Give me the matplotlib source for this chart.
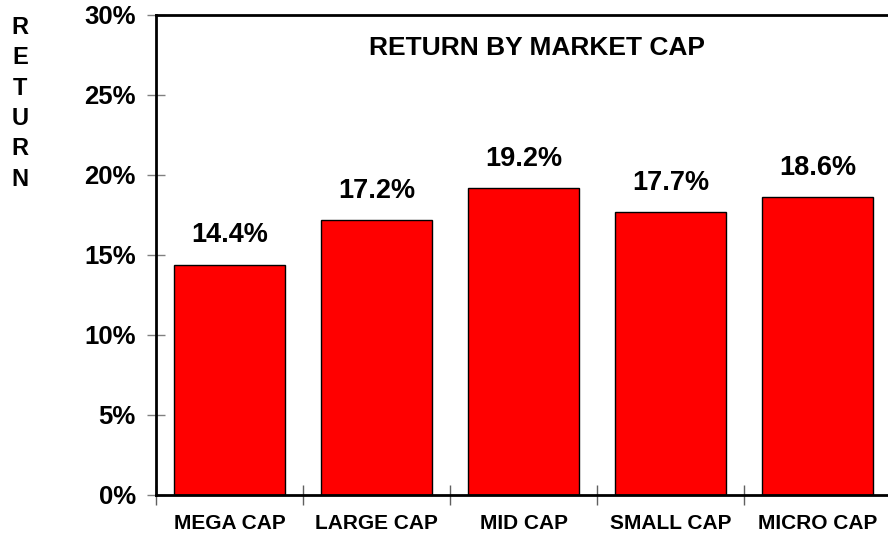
import matplotlib
matplotlib.use("Agg")
import matplotlib.pyplot as plt
from matplotlib.ticker import FixedLocator, NullFormatter

categories = ["MEGA CAP", "LARGE CAP", "MID CAP", "SMALL CAP", "MICRO CAP"]
returns = [14.4, 17.2, 19.2, 17.7, 18.6]
yticks = [0, 5, 10, 15, 20, 25, 30]
ytick_labels = ["0%", "5%", "10%", "15%", "20%", "25%", "30%"]
title = "RETURN BY MARKET CAP"
ylabel_letters = "RETURN"

plt.rcParams['font.family'] = ['Liberation Sans', 'DejaVu Sans']
plt.rcParams['font.weight'] = 'bold'

fig = plt.figure(figsize=(8.88, 5.40), dpi=100)
ax = fig.add_axes([156/888, 1-495/540, 735/888, 480/540])

x = list(range(len(categories)))
ax.bar(x, returns, width=0.75, color="#ff0000", edgecolor="black", linewidth=1.0, zorder=2)
ax.set_xlim(-0.5, len(categories) - 0.5)
ax.set_ylim(0, 30)

for xi, v in zip(x, returns):
    ax.annotate(f"{v:.1f}%", (xi, v), xytext=(0, 21), textcoords="offset points",
                ha="center", va="center", fontsize=19.5, fontweight="bold")

ax.set_yticks(yticks)
ax.set_yticklabels(ytick_labels, fontsize=18.5, fontweight="bold")
ax.tick_params(axis="y", direction="inout", length=13, width=1, color="#808080", pad=8)

ax.set_xticks(x)
ax.set_xticklabels(categories, fontsize=15, fontweight="bold")
ax.tick_params(axis="x", length=0, pad=14)
ax.xaxis.set_minor_locator(FixedLocator([i - 0.5 for i in range(len(categories) + 1)]))
ax.xaxis.set_minor_formatter(NullFormatter())
ax.tick_params(axis="x", which="minor", direction="inout", length=14, width=1, color="#606060")

for s in ["left", "top", "bottom"]:
    ax.spines[s].set_linewidth(2)
    ax.spines[s].set_color("black")
ax.spines["right"].set_visible(False)

ax.text(0.518, 0.931, title, transform=ax.transAxes, ha="center", va="center",
        fontsize=19, fontweight="bold")

for i, ch in enumerate(ylabel_letters):
    fig.text(20/888, 1 - (27.5 + i * 30.3)/540, ch, ha="center", va="center",
             fontsize=17, fontweight="bold")

fig.savefig("out.png", dpi=100)
